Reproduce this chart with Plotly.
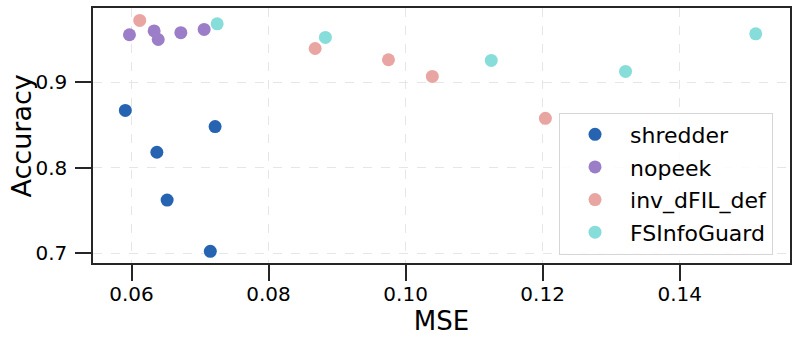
import plotly.graph_objects as go

# values
shredder_mse = [0.0591, 0.0637, 0.0652, 0.0722, 0.0715]
shredder_acc = [0.867, 0.818, 0.762, 0.848, 0.702]

nopeek_mse = [0.0597, 0.0633, 0.0639, 0.0672, 0.0706]
nopeek_acc = [0.9556, 0.960, 0.950, 0.958, 0.9618]

invdfil_mse = [0.0612, 0.0868, 0.0975, 0.1039, 0.1204]
invdfil_acc = [0.9723, 0.9395, 0.9263, 0.9068, 0.8577]

fsig_mse = [0.0725, 0.0883, 0.1125, 0.1321, 0.1511]
fsig_acc = [0.9684, 0.9524, 0.9255, 0.9126, 0.9567]

x_ticks = [0.06, 0.08, 0.10, 0.12, 0.14]
y_ticks = [0.7, 0.8, 0.9]

series = [
    ("shredder", shredder_mse, shredder_acc, "#2664b2"),
    ("nopeek", nopeek_mse, nopeek_acc, "#9c7ec8"),
    ("inv_dFIL_def", invdfil_mse, invdfil_acc, "#e9a5a1"),
    ("FSInfoGuard", fsig_mse, fsig_acc, "#86ddda"),
]

FONT = "DejaVu Sans"

fig = go.Figure()
for name, xs, ys, color in series:
    fig.add_trace(go.Scatter(
        x=xs, y=ys, mode="markers", name=name, legendgroup=name,
        marker=dict(color=color, size=13, line=dict(width=0)),
    ))

fig.update_layout(
    width=797, height=344,
    margin=dict(l=93, r=7, t=8, b=81),
    plot_bgcolor="white", paper_bgcolor="white",
    font=dict(family=FONT, color="black", size=20),
    showlegend=True,
    legend=dict(
        x=0.6686, y=0.590, xanchor="left", yanchor="top",
        bgcolor="rgba(255,255,255,0.85)", bordercolor="#d6d6d6", borderwidth=1,
        font=dict(size=22), tracegroupgap=1, itemwidth=60,
    ),
)

fig.update_xaxes(
    range=[0.05438, 0.1561], tickvals=x_ticks, tickformat=".2f", automargin=False,
    title=dict(text="MSE", font=dict(size=26), standoff=0),
    showgrid=True, gridcolor="#e6e6e6", griddash="dash", gridwidth=1,
    zeroline=False, showline=True, mirror=True, linecolor="#262626", linewidth=1.5,
    ticks="outside", ticklen=16, tickwidth=1.5, tickcolor="#262626",
    tickfont=dict(size=20), ticklabelstandoff=-4,
)
fig.update_yaxes(
    range=[0.6883, 0.9869], tickvals=y_ticks, tickformat=".1f", automargin=False,
    showgrid=True, gridcolor="#e6e6e6", griddash="dash", gridwidth=1,
    zeroline=False, showline=True, mirror=True, linecolor="#262626", linewidth=1.5,
    ticks="outside", ticklen=16, tickwidth=1.5, tickcolor="#262626",
    tickfont=dict(size=20), ticklabelstandoff=4,
)

# y title as an annotation so it can sit a bit closer to the tick labels
fig.add_annotation(
    text="Accuracy", textangle=-90, showarrow=False,
    xref="paper", yref="paper", x=-0.1019, y=0.5,
    xanchor="center", yanchor="middle",
    font=dict(size=27, family=FONT, color="black"),
)

# the default page keeps an 8px body margin; drop it so the figure sits at 0,0
fig.write_html(
    "out.html",
    config={"displayModeBar": False},
    post_script="document.body.style.margin='0';",
)
